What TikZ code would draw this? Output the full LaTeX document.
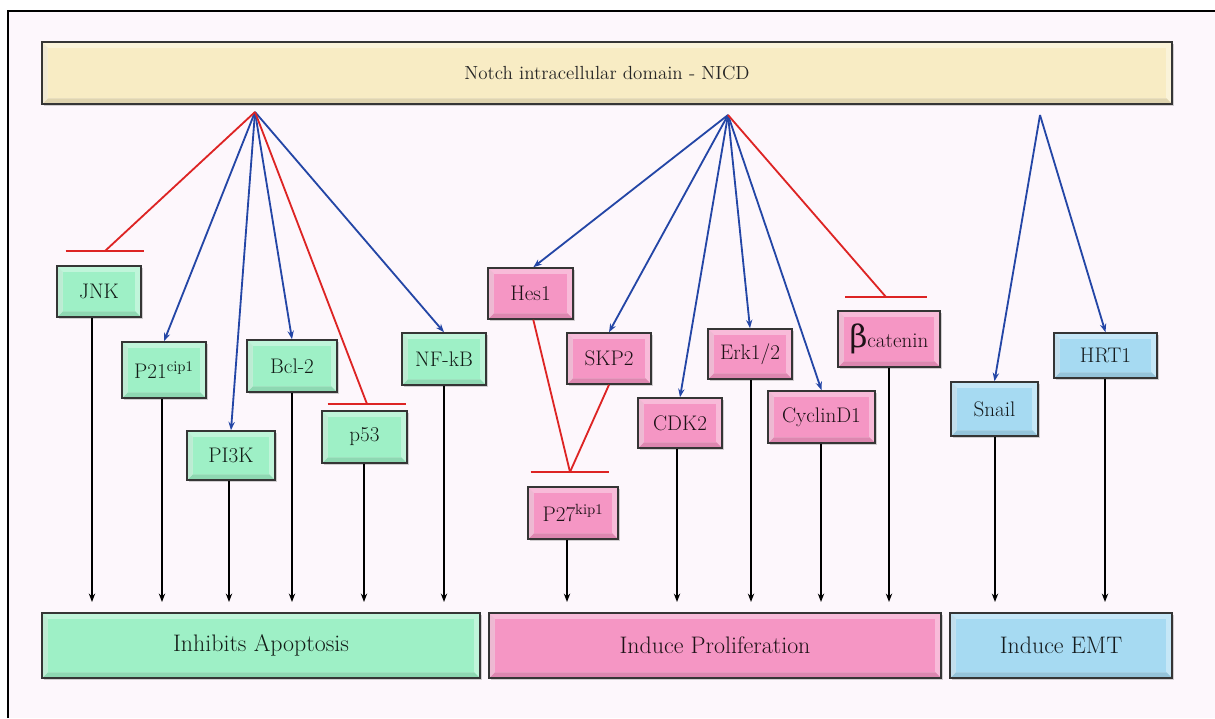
\documentclass[tikz,border=0pt]{standalone}
\usepackage{fontspec}
\newfontfamily\grk{DejaVu Serif}
\usetikzlibrary{arrows.meta,shadows,calc}
\definecolor{pagebg}{HTML}{FDF7FC}
\definecolor{greenbox}{HTML}{9EF0C6}
\definecolor{pinkbox}{HTML}{F596C4}
\definecolor{bluebox}{HTML}{A6DAF2}
\definecolor{barfill}{HTML}{F8ECC4}
\definecolor{edgegray}{HTML}{353535}
\definecolor{actblue}{HTML}{2446A6}
\definecolor{inhred}{HTML}{DD2424}
\tikzset{
  x=0.025cm, y=-0.025cm,
  box/.style={draw=edgegray, line width=1.1pt, inner sep=0pt,
    font=\fontsize{15}{17}\selectfont, text=#1!12!black,
    drop shadow={shadow xshift=1.2pt, shadow yshift=-1.6pt, opacity=0.35},
    fill=#1!65!white,
    path picture={
      \fill[#1!90!black] (path picture bounding box.south west) -- (path picture bounding box.south east)
        -- ($(path picture bounding box.south east)+(-4pt,4pt)$) -- ($(path picture bounding box.south west)+(4pt,4pt)$) -- cycle;
      \fill[#1!92!black!60!white] (path picture bounding box.south west) -- (path picture bounding box.north west)
        -- ($(path picture bounding box.north west)+(4pt,-4pt)$) -- ($(path picture bounding box.south west)+(4pt,4pt)$) -- cycle;
      \fill[#1] ($(path picture bounding box.south west)+(4pt,4pt)$) rectangle ($(path picture bounding box.north east)+(-4pt,-4pt)$);
    }},
  bigbox/.style={box=#1, font=\fontsize{17}{19}\selectfont},
  act/.style={draw=actblue, line width=1.3pt, -{Stealth[length=6pt,width=4.5pt]}},
  inh/.style={draw=inhred, line width=1.3pt},
  outarrow/.style={draw=black, line width=1pt, -{Stealth[length=6pt,width=4.5pt]}},
}
% \bx{name}{style}{left}{top}{right}{bottom}{text}
\newcommand\bx[7]{%
  \node[#2, minimum width={(#5-#3)*0.025cm}, minimum height={(#6-#4)*0.025cm}]
    (#1) at ({(#3+#5)/2},{(#4+#6)/2}) {#7};}
\begin{document}
\begin{tikzpicture}
\useasboundingbox (0,0) rectangle (1215,718);
% page and frame
\fill[white] (0,0) rectangle (1215,718);
\fill[pagebg] (8,11) rectangle (1215,718);
\draw[line width=1pt, black] (8,718) -- (8,11) -- (1215,11);

% top bar
\bx{nicd}{box=barfill, font=\fontsize{13.5}{15}\selectfont, text=black!85}{42}{42}{1172}{104}{Notch intracellular domain - NICD}

% hubs
\coordinate (lh) at (255,112);
\coordinate (mh) at (728,115);
\coordinate (rh) at (1040,115);

% apoptosis group
\bx{jnk}{box=greenbox}{57}{266}{141}{317}{JNK}
\bx{p21}{box=greenbox}{122}{342}{206}{398}{P21\textsuperscript{cip1}}
\bx{pi3k}{box=greenbox}{187}{431}{275}{480}{PI3K}
\bx{bcl}{box=greenbox}{247}{340}{337}{392}{Bcl-2}
\bx{p53}{box=greenbox}{322}{411}{407}{463}{p53}
\bx{nfkb}{box=greenbox}{402}{333}{486}{385}{NF-kB}

% proliferation group
\bx{hes}{box=pinkbox}{488}{268}{573}{319}{Hes1}
\bx{skp}{box=pinkbox}{567}{333}{651}{384}{SKP2}
\bx{cdk}{box=pinkbox}{638}{398}{722}{448}{CDK2}
\bx{erk}{box=pinkbox}{708}{329}{792}{379}{Erk1/2}
\bx{cyc}{box=pinkbox}{768}{391}{875}{443}{CyclinD1}
\bx{bcat}{box=pinkbox}{838}{311}{940}{367}{{\grk\fontsize{22}{22}\selectfont β}catenin}
\bx{p27}{box=pinkbox}{528}{487}{618}{539}{P27\textsuperscript{kip1}}

% EMT group
\bx{snail}{box=bluebox}{951}{382}{1038}{436}{Snail}
\bx{hrt}{box=bluebox}{1054}{333}{1157}{378}{HRT1}

% outcome boxes
\bx{apop}{bigbox=greenbox}{42}{613}{480}{678}{Inhibits Apoptosis}
\bx{prol}{bigbox=pinkbox}{489}{613}{941}{678}{Induce Proliferation}
\bx{emt}{bigbox=bluebox}{950}{613}{1172}{678}{Induce EMT}

% inhibition bar positions
\coordinate (jnkbar) at (105,251);
\coordinate (p53bar) at (367,404);
\coordinate (bcatbar) at (886,297);
\coordinate (p27bar) at (570,472);

% activating links
\draw[act] (lh) -- (p21.north);
\draw[act] (lh) -- (pi3k.north);
\draw[act] (lh) -- (bcl.north);
\draw[act] (lh) -- (nfkb.north);
\draw[act] (mh) -- ([xshift=2pt]hes.north);
\draw[act] (mh) -- (skp.north);
\draw[act] (mh) -- (cdk.north);
\draw[act] (mh) -- (erk.north);
\draw[act] (mh) -- (cyc.north);
\draw[act] (rh) -- (snail.north);
\draw[act] (rh) -- (hrt.north);

% inhibiting links
\draw[inh] (lh) -- (jnkbar);
\draw[inh] ([xshift=-28]jnkbar) -- ([xshift=28]jnkbar);
\draw[inh] (lh) -- (p53bar);
\draw[inh] ([xshift=-28]p53bar) -- ([xshift=28]p53bar);
\draw[inh] (mh) -- (bcatbar);
\draw[inh] ([xshift=-29]bcatbar) -- ([xshift=29]bcatbar);
\draw[inh] ([xshift=2]hes.south) -- (p27bar);
\draw[inh] (skp.south) -- (p27bar);
\draw[inh] ([xshift=-28]p27bar) -- ([xshift=28]p27bar);

% links to outcomes
\foreach \n/\xx in {jnk/92, p21/162, pi3k/229, bcl/292, p53/364, nfkb/444,
                    p27/567, cdk/677, erk/751, cyc/821, bcat/889,
                    snail/995, hrt/1105} {
  \coordinate (end-\n) at (\xx,602);
  \draw[outarrow] (\n.south -| end-\n) -- (end-\n);
}
\end{tikzpicture}
\end{document}
